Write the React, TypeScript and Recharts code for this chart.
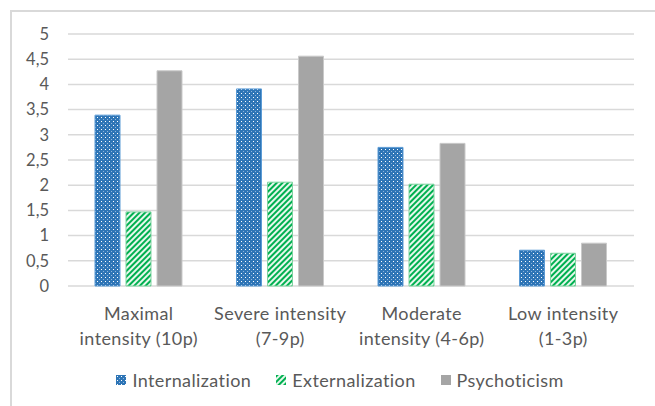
import React from "react";
import { BarChart, Bar, XAxis, YAxis, CartesianGrid } from "recharts";

const categories = [
  ["Maximal", "intensity (10p)"],
  ["Severe intensity", "(7-9p)"],
  ["Moderate", "intensity (4-6p)"],
  ["Low intensity", "(1-3p)"],
];
const internalization = [3.39, 3.91, 2.75, 0.71];
const externalization = [1.47, 2.06, 2.02, 0.65];
const psychoticism = [4.27, 4.56, 2.83, 0.85];
const yTicks = [0, 0.5, 1, 1.5, 2, 2.5, 3, 3.5, 4, 4.5, 5];

const seriesInfo = [
  { key: "internalization", name: "Internalization", fill: "url(#dotsBlue)", stroke: "#5b9bd5" },
  { key: "externalization", name: "Externalization", fill: "url(#hatchGreen)", stroke: "#7fd3a0" },
  { key: "psychoticism", name: "Psychoticism", fill: "#a5a5a5", stroke: "#c9c9c9" },
];

const FONT = "Lato, 'Liberation Sans', sans-serif";
const TEXT = "#595959";

const PatternDefs = () => (
  <defs>
    <pattern id="dotsBlue" width="4" height="4" patternUnits="userSpaceOnUse">
      <rect width="4" height="4" fill="#2e75b6" />
      <rect x="1" y="1" width="1" height="1" fill="#ffffff" />
      <rect x="3" y="3" width="1" height="1" fill="#8fb4dc" />
    </pattern>
    <pattern id="hatchGreen" width="4" height="4" patternUnits="userSpaceOnUse" patternTransform="rotate(45)">
      <rect width="4" height="4" fill="#e6f7ec" />
      <rect width="2" height="4" fill="#00b050" />
    </pattern>
  </defs>
);

const CategoryTick = (props: any) => {
  const { x, y, payload } = props;
  const lines = categories[payload.index] || [];
  return (
    <text x={x} y={y} textAnchor="middle" fill={TEXT} fontSize={18} letterSpacing={0.4} fontFamily={FONT}>
      {lines.map((l, i) => (
        <tspan key={i} x={x} dy={i === 0 ? 26 : 25}>
          {l}
        </tspan>
      ))}
    </text>
  );
};

export default function App() {
  const data = categories.map((c, i) => ({
    name: c.join(" "),
    internalization: internalization[i],
    externalization: externalization[i],
    psychoticism: psychoticism[i],
  }));

  return (
    <div style={{ position: "fixed", left: 0, top: 0, width: 655, height: 406, background: "#fff", overflow: "hidden" }}>
      <div
        style={{
          position: "absolute",
          left: 10,
          top: 10,
          width: 700,
          height: 500,
          borderTop: "2px solid #d9d9d9",
          borderLeft: "2px solid #d9d9d9",
        }}
      />
      <div style={{ position: "absolute", left: 0, top: 0 }}>
        <BarChart
          width={655}
          height={406}
          data={data}
          margin={{ top: 34, right: 21, left: 10, bottom: 60 }}
          barGap={6}
          barSize={25}
        >
          <PatternDefs />
          <CartesianGrid vertical={false} stroke="#d9d9d9" strokeWidth={1.5} />
          <XAxis
            dataKey="name"
            axisLine={false}
            tickLine={false}
            height={60}
            interval={0}
            tick={<CategoryTick />}
          />
          <YAxis
            width={58}
            domain={[0, 5]}
            ticks={yTicks}
            axisLine={false}
            tickLine={false}
            tickMargin={13}
            tick={{ fill: TEXT, fontSize: 16.5, fontFamily: FONT }}
            tickFormatter={(v: number) => String(v).replace(".", ",")}
          />
          {seriesInfo.map((s) => (
            <Bar
              key={s.key}
              dataKey={s.key}
              name={s.name}
              fill={s.fill}
              stroke={s.stroke}
              strokeWidth={1}
              isAnimationActive={false}
            />
          ))}
        </BarChart>
      </div>
      <div
        style={{
          position: "absolute",
          left: 0,
          width: 680,
          top: 369,
          display: "flex",
          justifyContent: "center",
          alignItems: "center",
          fontFamily: FONT,
          fontSize: 18,
          letterSpacing: 0.4,
          color: TEXT,
          gap: 25,
        }}
      >
        {seriesInfo.map((s) => (
          <div key={s.key} style={{ display: "flex", alignItems: "center" }}>
            <svg width={10} height={10} style={{ marginRight: 6 }}>
              <rect width={10} height={10} fill={s.fill} />
            </svg>
            <span>{s.name}</span>
          </div>
        ))}
      </div>
    </div>
  );
}
